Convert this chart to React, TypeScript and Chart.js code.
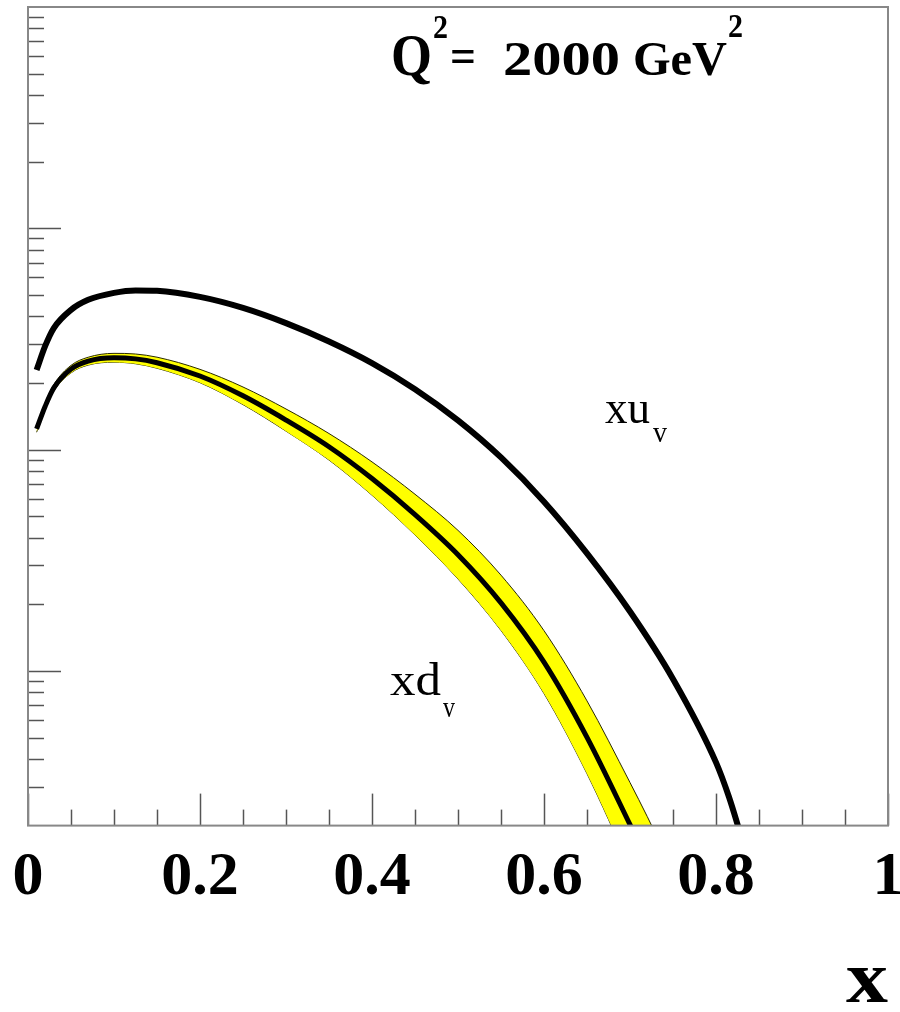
import React, { useEffect, useRef } from 'react';
import { Chart, registerables } from 'chart.js';

Chart.register(...registerables);

// ---- data ----
const xuGrid = [0.01, 0.02, 0.03, 0.05, 0.07, 0.1, 0.125, 0.15, 0.2, 0.25, 0.3, 0.35, 0.4, 0.45, 0.5, 0.55, 0.6, 0.65, 0.7, 0.75, 0.8, 0.815, 0.83];
const xuValence = [0.229, 0.294, 0.354, 0.428, 0.475, 0.511, 0.524, 0.522, 0.49, 0.437, 0.373, 0.308, 0.246, 0.1875, 0.1356, 0.0922, 0.0582, 0.0340, 0.01856, 0.0092, 0.00386, 0.0027, 0.00175];

const xdGrid = [0.01, 0.02, 0.03, 0.05, 0.07, 0.1, 0.125, 0.15, 0.2, 0.25, 0.3, 0.35, 0.4, 0.45, 0.5, 0.55, 0.6, 0.65, 0.7, 0.72, 0.74];
const xdValence = [0.124, 0.157, 0.19, 0.231, 0.251, 0.26, 0.257, 0.247, 0.215, 0.175, 0.136, 0.103, 0.074, 0.05085, 0.0335, 0.0203, 0.01096, 0.00501, 0.00202, 0.00139, 0.00095];
const xdUpper = [0.1283, 0.1625, 0.1967, 0.2402, 0.2615, 0.2722, 0.2704, 0.2616, 0.2305, 0.1918, 0.1526, 0.1182, 0.088, 0.06285, 0.04315, 0.02708, 0.0152, 0.00732, 0.00313, 0.0022, 0.00152];
const xdLower = [0.1198, 0.1517, 0.1836, 0.2221, 0.2409, 0.2483, 0.2443, 0.2332, 0.2006, 0.1597, 0.1212, 0.0897, 0.0622, 0.04114, 0.02601, 0.01522, 0.0079, 0.00343, 0.0013, 0.00088, 0.00059];

const xMajorTicks = [0, 0.2, 0.4, 0.6, 0.8, 1];
const xTickLabels = ['0', '0.2', '0.4', '0.6', '0.8', '1'];
const xMinorTicks = [0.05, 0.1, 0.15, 0.25, 0.3, 0.35, 0.45, 0.5, 0.55, 0.65, 0.7, 0.75, 0.85, 0.9, 0.95];
const yMajorTicks = [0.01, 0.1, 1];
const yMinorTicks = [0.003, 0.004, 0.005, 0.006, 0.007, 0.008, 0.009, 0.02, 0.03, 0.04, 0.05, 0.06, 0.07, 0.08, 0.09, 0.2, 0.3, 0.4, 0.5, 0.6, 0.7, 0.8, 0.9, 2, 3, 4, 5, 6, 7, 8, 9];
const yMin = 0.002;
const yMax = 10;

const SERIF = '"Liberation Serif", "Times New Roman", "DejaVu Serif", serif';

function fitText(ctx: CanvasRenderingContext2D, text: string, left: number, right: number, baseline: number, size: number, bold: boolean) {
  ctx.save();
  ctx.font = `${bold ? 'bold ' : ''}${size}px ${SERIF}`;
  ctx.textAlign = 'left';
  ctx.textBaseline = 'alphabetic';
  const w = ctx.measureText(text).width;
  const sx = (right - left) / w;
  ctx.translate(left, baseline);
  ctx.scale(sx, 1);
  ctx.fillStyle = '#000';
  ctx.fillText(text, 0, 0);
  ctx.restore();
}

const ticksPlugin = {
  id: 'insideTicks',
  beforeDatasetsDraw(chart: any) {
    const { ctx, chartArea: a, scales } = chart;
    const xs = scales.x;
    const ys = scales.y;
    ctx.save();
    ctx.strokeStyle = '#555';
    ctx.lineWidth = 1.5;
    const seg = (x1: number, y1: number, x2: number, y2: number) => {
      ctx.beginPath();
      ctx.moveTo(x1, y1);
      ctx.lineTo(x2, y2);
      ctx.stroke();
    };
    yMajorTicks.forEach((v) => { const p = Math.round(ys.getPixelForValue(v)) + 0.5; seg(a.left, p, a.left + 33, p); });
    yMinorTicks.forEach((v) => { const p = Math.round(ys.getPixelForValue(v)) + 0.5; seg(a.left, p, a.left + 16, p); });
    xMajorTicks.forEach((v) => { const p = Math.round(xs.getPixelForValue(v)) + 0.5; seg(p, a.bottom, p, a.bottom - 32); });
    xMinorTicks.forEach((v) => { const p = Math.round(xs.getPixelForValue(v)) + 0.5; seg(p, a.bottom, p, a.bottom - 16); });
    ctx.restore();
  },
  afterDraw(chart: any) {
    const { ctx, chartArea: a } = chart;
    ctx.save();
    ctx.strokeStyle = '#888';
    ctx.lineWidth = 2;
    ctx.strokeRect(a.left, a.top, a.right - a.left, a.bottom - a.top);
    ctx.restore();

    // header annotation
    fitText(ctx, 'Q', 391, 432, 75, 60, true);
    fitText(ctx, '2', 433, 448, 38, 34, true);
    fitText(ctx, '=', 450, 476, 72, 48, true);
    fitText(ctx, '2000', 503, 620, 75, 48, true);
    fitText(ctx, 'GeV', 633, 727, 75, 48, true);
    fitText(ctx, '2', 728, 743, 37, 34, true);

    // curve labels
    fitText(ctx, 'xu', 605, 650, 423, 46, false);
    fitText(ctx, 'v', 653, 667, 442, 30, false);
    fitText(ctx, 'xd', 390, 441, 695, 46, false);
    fitText(ctx, 'v', 443, 455, 717, 30, false);

    // axis title
    fitText(ctx, 'x', 846, 888, 1002, 74, true);
  },
};

export default function App() {
  const ref = useRef<HTMLCanvasElement | null>(null);

  useEffect(() => {
    if (!ref.current) return;
    const pts = (xs: number[], ys: number[]) => xs.map((x, i) => ({ x, y: ys[i] }));
    const chart = new Chart(ref.current, {
      type: 'line',
      data: {
        datasets: [
          {
            label: 'xd lower',
            data: pts(xdGrid, xdLower),
            borderColor: '#2a2a00',
            borderWidth: 1,
            pointRadius: 0,
            fill: false,
            cubicInterpolationMode: 'monotone',
            order: 3,
          },
          {
            label: 'xd upper',
            data: pts(xdGrid, xdUpper),
            borderColor: '#2a2a00',
            borderWidth: 1,
            pointRadius: 0,
            fill: '-1',
            backgroundColor: '#ffff00',
            cubicInterpolationMode: 'monotone',
            order: 2,
          },
          {
            label: 'xd_v',
            data: pts(xdGrid, xdValence),
            borderColor: '#000',
            borderWidth: 5,
            pointRadius: 0,
            fill: false,
            cubicInterpolationMode: 'monotone',
            order: 1,
          },
          {
            label: 'xu_v',
            data: pts(xuGrid, xuValence),
            borderColor: '#000',
            borderWidth: 6,
            pointRadius: 0,
            fill: false,
            cubicInterpolationMode: 'monotone',
            order: 1,
          },
        ],
      },
      options: {
        animation: false,
        responsive: false,
        maintainAspectRatio: false,
        devicePixelRatio: 1,
        layout: { padding: { left: 28, right: 12, top: 7, bottom: 82 } },
        plugins: { legend: { display: false }, tooltip: { enabled: false } },
        scales: {
          x: {
            type: 'linear',
            min: 0,
            max: 1,
            grid: { display: false, drawTicks: false },
            border: { display: false },
            afterBuildTicks: (s: any) => { s.ticks = xMajorTicks.map((v) => ({ value: v })); },
            afterFit: (s: any) => { s.paddingLeft = 0; s.paddingRight = 0; },
            ticks: {
              autoSkip: false,
              maxRotation: 0,
              padding: 15,
              color: '#000',
              font: { family: SERIF, size: 62, weight: 'bold' },
              callback: (_v: any, i: number) => xTickLabels[i],
            },
          },
          y: {
            type: 'logarithmic',
            min: yMin,
            max: yMax,
            display: false,
          },
        },
      } as any,
      plugins: [ticksPlugin],
    });
    return () => chart.destroy();
  }, []);

  return (
    <div style={{ position: 'fixed', left: 0, top: 0, width: 900, height: 1012, background: '#fff' }}>
      <canvas ref={ref} width={900} height={1012} style={{ display: 'block', width: 900, height: 1012 }} />
    </div>
  );
}
